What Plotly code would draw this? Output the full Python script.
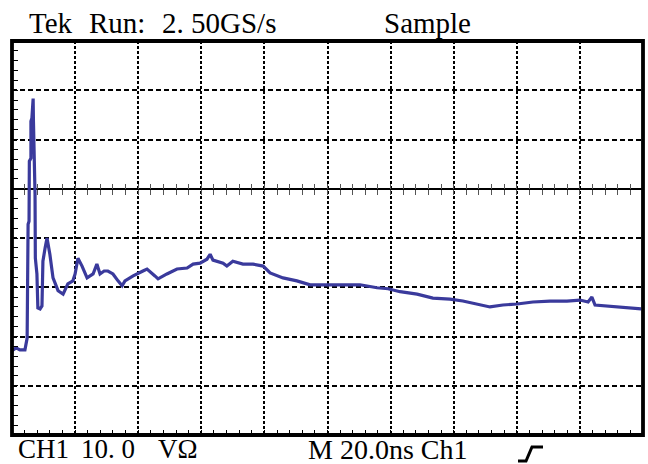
import plotly.graph_objects as go

# ---- data (time in ns, voltage in V; 20 ns/div, 10 V/div) ----
time_ns = [0, 1.3, 2.5, 4.1, 4.8, 4.9, 5.1, 5.4, 5.5, 6.0, 6.0, 6.3, 6.7, 6.8, 7.0, 7.3,
           7.4, 7.9, 8.2, 8.9, 9.5, 9.8, 10.5, 11.1, 12.0, 13.0, 14.6, 16.2, 17.7, 19.3,
           20.0, 20.9, 22.2, 23.8, 25.7, 26.9, 27.9, 29.2, 30.4, 32.0, 33.6, 34.9, 35.8,
           38.4, 41.5, 42.8, 45.3, 46.3, 49.1, 52.3, 55.5, 57.4, 59.6, 61.8, 62.8, 63.7,
           66.9, 68.1, 70.0, 73.2, 76.4, 79.6, 81.8, 85.9, 90.3, 94.5, 99.8, 104.9, 110.3,
           115.7, 119.2, 123.0, 128.4, 133.4, 138.8, 142.9, 147.4, 151.5, 155.6, 160.1,
           165.1, 170.5, 175.9, 180.0, 182.6, 183.8, 184.8, 188.6, 192.7, 196.8, 199.4]
volts = [-32.9, -32.3, -32.7, -32.7, -30.3, -18.1, -7.2, -6.6, 5.6, 6.2, 13.7, 14.3, 18.3,
         13.7, 7.0, -1.1, -14.1, -17.3, -24.2, -24.4, -23.8, -14.7, -12.0, -10.0, -13.3,
         -18.1, -20.7, -21.4, -19.3, -18.7, -17.3, -14.1, -15.7, -18.1, -17.3, -15.3,
         -17.3, -16.7, -16.7, -17.3, -18.7, -19.7, -18.7, -17.7, -16.7, -16.3, -17.7,
         -18.3, -17.3, -16.3, -16.1, -15.3, -15.1, -14.3, -13.3, -14.5, -15.1, -15.7,
         -14.7, -15.3, -15.3, -15.7, -17.1, -18.1, -18.7, -19.5, -19.5, -19.5, -19.5,
         -20.1, -20.3, -20.9, -21.4, -22.2, -22.4, -22.8, -23.4, -24.0, -23.6, -23.4,
         -23.0, -22.8, -22.8, -22.6, -23.0, -22.0, -23.6, -23.8, -24.0, -24.2, -24.4]

x_range = [0, 200]      # 10 divisions x 20 ns
y_range = [-50, 30]     # 8 divisions x 10 V (ground marker 3 div from top)
x_div, y_div = 20, 10
x_minor, y_minor = 4, 2

header_left = ["Tek", "Run:", "2. 50GS/s"]
header_right = "Sample"
footer_ch = ["CH1", "10. 0", "VΩ"]
footer_time = "M 20.0ns Ch1"

W, H = 648, 464
L, R, T, B = 12, 5, 41, 29
PW, PH = W - L - R, H - T - B
zero_pos = (0 - y_range[0]) / (y_range[1] - y_range[0])


def px(xp):
    return (xp - L) / PW


def py(yp):
    return (H - B - yp) / PH


trace_color = "#3a3a9c"
fig = go.Figure()
fig.add_trace(go.Scatter(x=time_ns, y=volts, mode="lines",
                         line=dict(color=trace_color, width=3.2),
                         hoverinfo="skip", showlegend=False))

fig.update_layout(
    width=W, height=H,
    margin=dict(l=L, r=R, t=T, b=B, pad=0),
    paper_bgcolor="white", plot_bgcolor="white",
    showlegend=False,
    xaxis=dict(range=x_range, tick0=0, dtick=x_div, showgrid=True, gridcolor="black",
               gridwidth=1.8, griddash="3px,2px", zeroline=False, showticklabels=False,
               ticks="inside", ticklen=5, tickwidth=1.2, tickcolor="black",
               minor=dict(dtick=x_minor, ticks="inside", ticklen=5, tickwidth=1.2,
                          tickcolor="black", showgrid=False),
               showline=False, fixedrange=True),
    yaxis=dict(range=y_range, tick0=0, dtick=y_div, showgrid=True, gridcolor="black",
               gridwidth=1.8, griddash="5px,3px", zeroline=True, zerolinecolor="black",
               zerolinewidth=2, showticklabels=False,
               ticks="inside", ticklen=6, tickwidth=1.2, tickcolor="black",
               minor=dict(dtick=y_minor, ticks="inside", ticklen=6, tickwidth=1.2,
                          tickcolor="black", showgrid=False),
               showline=False, fixedrange=True),
    xaxis2=dict(matches="x", overlaying="x", anchor="free", position=zero_pos,
                tick0=0, dtick=x_minor, ticks="outside", ticklen=5, tickwidth=1.2,
                tickcolor="#555", showgrid=False, zeroline=False, showline=False,
                showticklabels=False),
    xaxis3=dict(matches="x", overlaying="x", anchor="free", position=zero_pos,
                tick0=0, dtick=x_minor, ticks="inside", ticklen=5, tickwidth=1.2,
                tickcolor="#555", showgrid=False, zeroline=False, showline=False,
                showticklabels=False),
)

for ax in ["x2", "x3"]:
    fig.add_trace(go.Scatter(x=[None], y=[None], xaxis=ax, yaxis="y", mode="lines",
                             showlegend=False, hoverinfo="skip"))

fig.add_shape(type="rect", xref="paper", yref="paper", x0=0, x1=1, y0=0, y1=1,
              line=dict(color="black", width=3.8), layer="above")

font = dict(family="Liberation Serif, Times New Roman, serif", size=29, color="black")
font_b = dict(family="Liberation Serif, Times New Roman, serif", size=27, color="black")
hx = [27, 87, 160]
for t, xp in zip(header_left, hx):
    fig.add_annotation(text=t, xref="paper", yref="paper", x=px(xp), y=py(23),
                       xanchor="left", yanchor="middle", showarrow=False, font=font)
fig.add_annotation(text=header_right, xref="paper", yref="paper", x=px(382), y=py(23),
                   xanchor="left", yanchor="middle", showarrow=False, font=font)

fx = [16, 79, 156]
for t, xp in zip(footer_ch, fx):
    fig.add_annotation(text=t, xref="paper", yref="paper", x=px(xp), y=py(449),
                       xanchor="left", yanchor="middle", showarrow=False, font=font_b)
fig.add_annotation(text=footer_time, xref="paper", yref="paper", x=px(306), y=py(449),
                   xanchor="left", yanchor="middle", showarrow=False,
                   font=dict(family="Liberation Serif, Times New Roman, serif", size=28,
                             color="black"))

path = "M {},{} L {},{} L {},{} L {},{}".format(
    px(518), py(461), px(526), py(461), px(532), py(447), px(543), py(447))
fig.add_shape(type="path", xref="paper", yref="paper", path=path,
              line=dict(color="black", width=3))

fig.write_html("out.html", config={"displayModeBar": False},
               post_script="document.body.style.margin='0px';document.body.style.overflow='hidden';")
